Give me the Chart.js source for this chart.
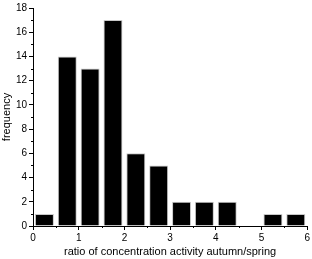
<!DOCTYPE html>
<html>
<head>
<meta charset="utf-8">
<script src="https://cdn.jsdelivr.net/npm/chart.js@4"></script>
<style>
	html, body { margin: 0; padding: 0; background: #fff; }
	#wrap { width: 312px; height: 259px; }
</style>
</head>
<body>
<div id="wrap"><canvas id="hist" width="312" height="259"></canvas></div>
<script>
// bin centres (bin width 0.5) and counts
const binCentres = [0.25, 0.75, 1.25, 1.75, 2.25, 2.75, 3.25, 3.75, 4.25, 4.75, 5.25, 5.75]
const counts = [1, 14, 13, 17, 6, 5, 2, 2, 2, 0, 1, 1]
const xTicks = [0, 1, 2, 3, 4, 5, 6]
const yTicks = [0, 2, 4, 6, 8, 10, 12, 14, 16, 18]

const font = { family: 'Liberation Sans, Arial, sans-serif', size: 10 }
const titleFont = { family: 'Liberation Sans, Arial, sans-serif', size: 11 }

// short minor ticks halfway between the labelled ones
const minorTicks = {
	id: 'minorTicks',
	afterDraw(chart) {
		const ctx = chart.ctx
		const x = chart.scales.x
		const y = chart.scales.y
		ctx.save()
		ctx.strokeStyle = '#000'
		ctx.lineWidth = 1
		ctx.beginPath()
		for (let i = 0; i < xTicks.length - 1; i++) {
			const px = Math.round(x.getPixelForValue((xTicks[i] + xTicks[i + 1]) / 2)) + 0.5
			ctx.moveTo(px, x.top)
			ctx.lineTo(px, x.top + 2)
		}
		for (let i = 0; i < yTicks.length - 1; i++) {
			const py = Math.round(y.getPixelForValue((yTicks[i] + yTicks[i + 1]) / 2)) + 0.5
			ctx.moveTo(y.right, py)
			ctx.lineTo(y.right - 2, py)
		}
		ctx.stroke()
		ctx.restore()
	}
}

new Chart(document.getElementById('hist'), {
	type: 'bar',
	data: {
		datasets: [{
			data: binCentres.map((c, i) => ({ x: c, y: counts[i] })),
			backgroundColor: '#000',
			borderColor: '#c8c8c8',
			borderWidth: 1,
			categoryPercentage: 1,
			barPercentage: 0.83
		}]
	},
	options: {
		responsive: false,
		animation: false,
		layout: { padding: { top: 5, right: 3, left: 0, bottom: 0 } },
		plugins: { legend: { display: false }, tooltip: { enabled: false } },
		scales: {
			x: {
				type: 'linear',
				min: 0,
				max: 6,
				offset: false,
				afterBuildTicks: (s) => { s.ticks = xTicks.map(v => ({ value: v })) },
				afterFit: (s) => { s.height = 33 },
				border: { color: '#000', width: 1 },
				grid: { drawOnChartArea: false, offset: false, color: '#000', tickLength: 4 },
				ticks: { color: '#000', font, padding: 2, maxRotation: 0 },
				title: { display: true, text: 'ratio of concentration activity autumn/spring', color: '#000', font: titleFont, padding: { top: 1, bottom: 0 } }
			},
			y: {
				min: 0,
				max: 18,
				afterBuildTicks: (s) => { s.ticks = yTicks.map(v => ({ value: v })) },
				afterFit: (s) => { s.width = 33 },
				border: { color: '#000', width: 1 },
				grid: { drawOnChartArea: false, color: '#000', tickLength: 4 },
				ticks: { color: '#000', font, padding: 2 },
				title: { display: true, text: 'frequency', color: '#000', font: titleFont, padding: 0 }
			}
		}
	},
	plugins: [minorTicks]
})
</script>
</body>
</html>
